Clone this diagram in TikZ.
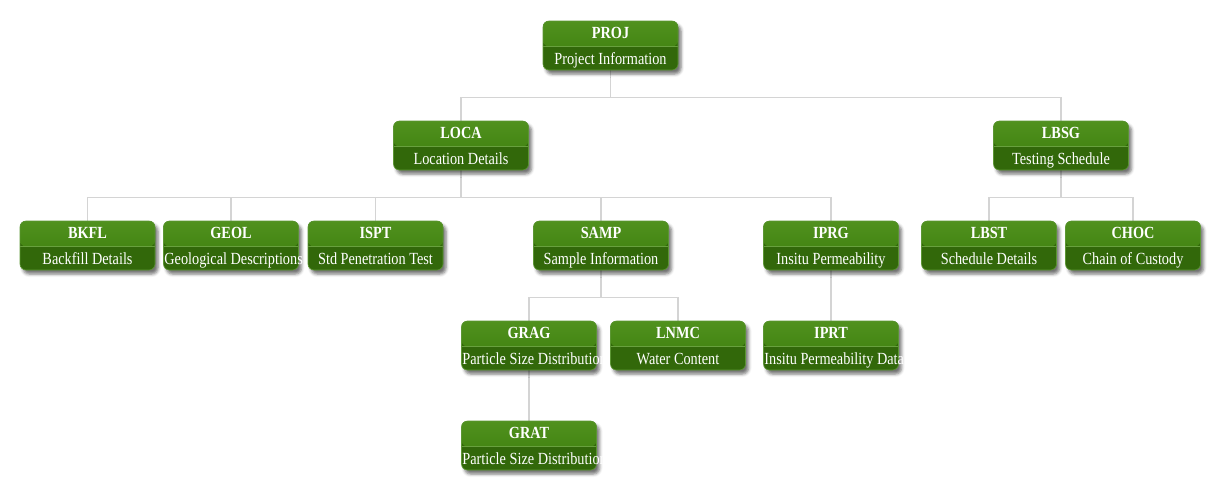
\documentclass[tikz,border=0pt]{standalone}
\usepackage{fontspec}
\setmainfont{Liberation Serif}
\usetikzlibrary{shadows.blur,calc}
\pgfdeclarelayer{bg}
\pgfsetlayers{bg,main}
\definecolor{panel}{RGB}{249,249,249}
\definecolor{gtopA}{RGB}{80,145,30}
\definecolor{gtopB}{RGB}{58,124,10}
\definecolor{gbot}{RGB}{50,104,10}
\definecolor{gedge}{RGB}{92,150,52}
\definecolor{gline}{RGB}{104,160,62}
\definecolor{conn}{RGB}{212,212,212}
\tikzset{
  gshadow/.style={blur shadow={shadow xshift=3pt, shadow yshift=-4pt, shadow blur radius=3pt, shadow opacity=55}},
  gbox/.style={rectangle, rounded corners=6pt, minimum width=135pt, minimum height=49pt,
    inner sep=0pt, fill=gbot, draw=gedge, line width=0.6pt, gshadow,
    path picture={
      \shade[top color=gtopA, bottom color=gtopB]
        (path picture bounding box.north west) rectangle ([yshift=-1pt]path picture bounding box.east);
      \draw[gline, line width=0.8pt] ([yshift=-1pt]path picture bounding box.west) -- ([yshift=-1pt]path picture bounding box.east);
    }},
  gtitle/.style={anchor=base, inner sep=0pt, text=white, font=\fontsize{17}{17}\selectfont\bfseries},
  gsub/.style={anchor=base, inner sep=0pt, text=white, font=\fontsize{17}{17}\selectfont},
  gsubL/.style={anchor=base west, inner sep=0pt, text=white, font=\fontsize{17}{17}\selectfont},
  connector/.style={draw=conn, line width=1.3pt}
}
\newcommand\sq[1]{\scalebox{0.84}[1]{#1}}
\newcommand\gbox[5]{%
  \node[gbox] (#1) at (#2,#3) {};
  \node[gtitle] (#1-t) at ([yshift=7.5pt]#1.center) {\sq{#4}};
  \node[gsub] (#1-s) at ([yshift=-18.5pt]#1.center) {\sq{#5}};}
\newcommand\gboxL[5]{%
  \node[gbox] (#1) at (#2,#3) {};
  \node[gtitle] (#1-t) at ([yshift=7.5pt]#1.center) {\sq{#4}};
  \node[gsubL] (#1-s) at ([xshift=1pt,yshift=-18.5pt]#1.west) {\sq{#5}};}
\begin{document}
\begin{tikzpicture}[x=1pt,y=-1pt]
\useasboundingbox (0,0) rectangle (1208,482);
\begin{pgfonlayer}{bg}
  \fill[white] (0,0) rectangle (1208,482);
  \fill[panel] (9,9) rectangle (1208,482);
\end{pgfonlayer}
% off-page warm-up for the blur shadow fading
\path[gshadow] (-600,-600) rectangle (-560,-560);
% level 1
\gbox{proj}{610.5}{45.5}{PROJ}{Project Information}
% level 2
\gbox{loca}{461}{145.5}{LOCA}{Location Details}
\gbox{lbsg}{1061}{145.5}{LBSG}{Testing Schedule}
% level 3
\gbox{bkfl}{87.5}{245.5}{BKFL}{Backfill Details}
\gboxL{geol}{231}{245.5}{GEOL}{Geological Descriptions}
\gbox{ispt}{375.5}{245.5}{ISPT}{Std Penetration Test}
\gbox{samp}{601}{245.5}{SAMP}{Sample Information}
\gbox{iprg}{831}{245.5}{IPRG}{Insitu Permeability}
\gbox{lbst}{989}{245.5}{LBST}{Schedule Details}
\gbox{choc}{1133}{245.5}{CHOC}{Chain of Custody}
% level 4
\gboxL{grag}{529}{345.5}{GRAG}{Particle Size Distribution}
\gbox{lnmc}{678}{345.5}{LNMC}{Water Content}
\gboxL{iprt}{831}{345.5}{IPRT}{Insitu Permeability Data}
% level 5
\gboxL{grat}{529}{445.5}{GRAT}{Particle Size Distribution Data}
% connectors
\begin{pgfonlayer}{bg}
  \coordinate (j1) at ($(proj.south)+(0,27)$);
  \draw[connector] (proj.south) -- (j1) -| (loca.north);
  \draw[connector] (j1) -| (lbsg.north);
  \coordinate (j2) at ($(loca.south)+(0,27)$);
  \foreach \c in {bkfl,geol,ispt,samp,iprg}{\draw[connector] (loca.south) -- (j2) -| (\c.north);}
  \coordinate (j3) at ($(lbsg.south)+(0,27)$);
  \foreach \c in {lbst,choc}{\draw[connector] (lbsg.south) -- (j3) -| (\c.north);}
  \coordinate (j4) at ($(samp.south)+(0,27)$);
  \foreach \c in {grag,lnmc}{\draw[connector] (samp.south) -- (j4) -| (\c.north);}
  \draw[connector] (iprg.south) -- (iprt.north);
  \draw[connector] (grag.south) -- (grat.north);
\end{pgfonlayer}
\end{tikzpicture}
\end{document}
